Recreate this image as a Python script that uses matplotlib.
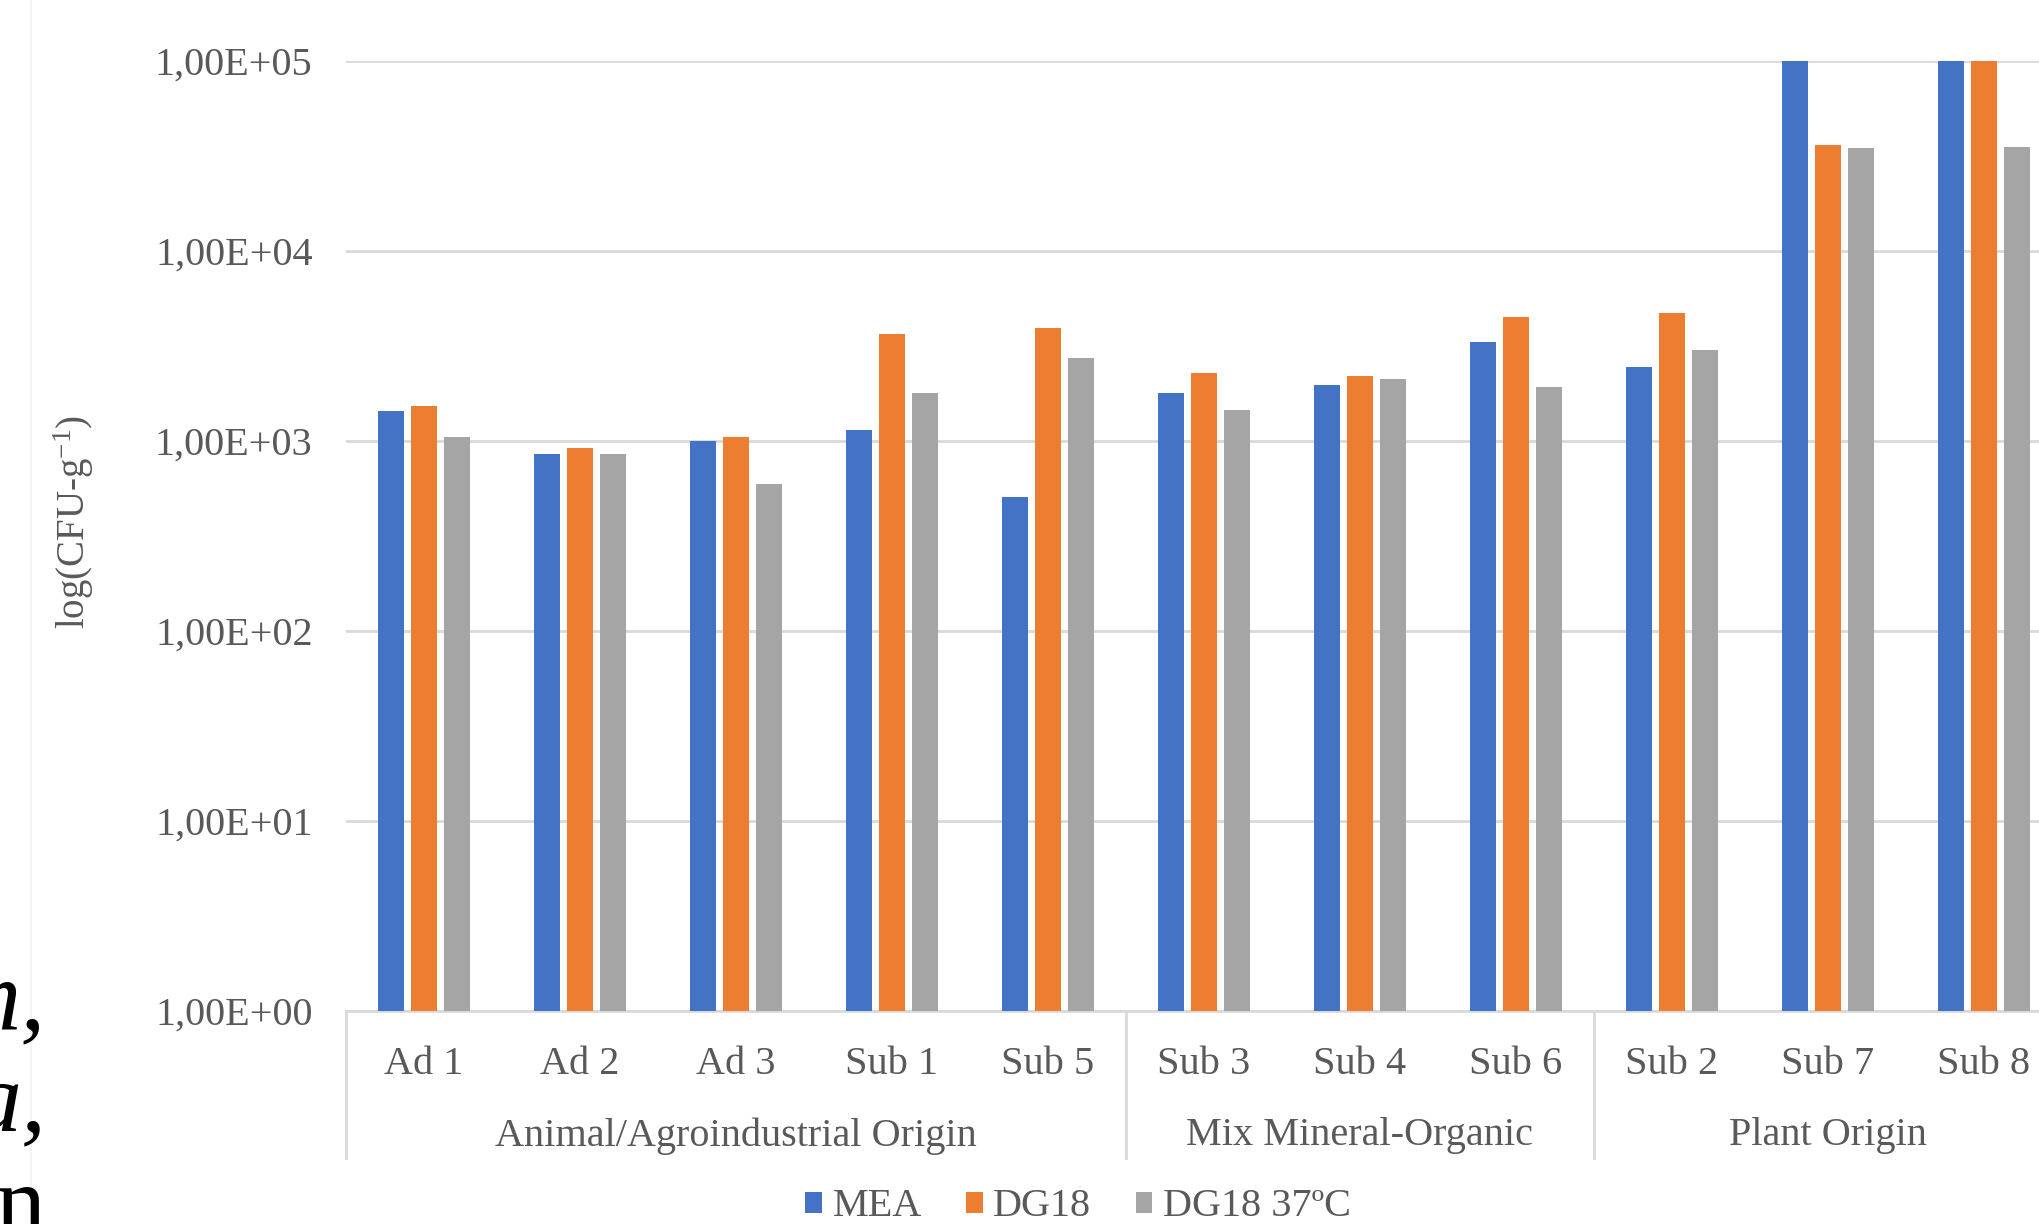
import matplotlib
matplotlib.use('Agg')
import matplotlib.pyplot as plt
import numpy as np
from matplotlib.transforms import blended_transform_factory
from matplotlib.patches import Patch
from matplotlib.lines import Line2D

# ---- data ----
categories = ['Ad 1', 'Ad 2', 'Ad 3', 'Sub 1', 'Sub 5', 'Sub 3', 'Sub 4', 'Sub 6', 'Sub 2', 'Sub 7', 'Sub 8']
groups = ['Animal/Agroindustrial Origin', 'Mix Mineral-Organic', 'Plant Origin']
group_sizes = [5, 3, 3]
series_names = ['MEA', 'DG18', 'DG18 37ºC']
mea = [1440, 850, 1000, 1140, 505, 1790, 1980, 3330, 2440, 100000, 100000]
dg18 = [1520, 920, 1050, 3650, 3950, 2270, 2190, 4500, 4720, 36000, 100000]
dg18_37 = [1045, 850, 594, 1790, 2745, 1460, 2120, 1920, 3020, 35000, 35200]
ytick_vals = [1, 10, 100, 1000, 10000, 100000]
ytick_labels = ['1,00E+00', '1,00E+01', '1,00E+02', '1,00E+03', '1,00E+04', '1,00E+05']
ylabel_text = 'log(CFU-g$^{-1}$)'

colors = ['#4472C4', '#ED7D31', '#A5A5A5']
txt_col = '#595959'
grid_col = '#D9D9D9'
serif = 'Liberation Serif'

plt.rcParams['font.family'] = serif
plt.rcParams['mathtext.fontset'] = 'custom'
plt.rcParams['mathtext.rm'] = serif
plt.rcParams['mathtext.it'] = serif + ':italic'

W, H = 2040, 1224
fig = plt.figure(figsize=(W / 100, H / 100), dpi=100)
fig.patch.set_facecolor('white')

ax_left, ax_right, ax_top, ax_bot = 346, 2062, 61, 1011
ax = fig.add_axes([ax_left / W, 1 - ax_bot / H, (ax_right - ax_left) / W, (ax_bot - ax_top) / H])

x = np.arange(len(categories))
step = 0.213
bw = 0.168
for i, (vals, c) in enumerate(zip([mea, dg18, dg18_37], colors)):
    ax.bar(x + (i - 1) * step, vals, width=bw, color=c, bottom=0, zorder=3)

ax.set_yscale('log')
ax.set_ylim(1, 100000)
ax.set_xlim(-0.5, len(categories) - 0.5)
ax.set_yticks(ytick_vals)
ax.set_yticklabels(ytick_labels)
ax.yaxis.set_minor_locator(matplotlib.ticker.NullLocator())
ax.tick_params(axis='y', length=0, pad=24, labelsize=29, labelcolor=txt_col)
ax.set_xticks([])
ax.grid(axis='y', color=grid_col, linewidth=2.0, zorder=0)
for s in ['top', 'right', 'left']:
    ax.spines[s].set_visible(False)
ax.spines['bottom'].set_color(grid_col)
ax.spines['bottom'].set_linewidth(2.0)

# category labels
trans = blended_transform_factory(ax.transData, fig.transFigure)
for xi, lab in zip(x, categories):
    ax.text(xi, 1 - 1064 / H, lab, transform=trans, ha='center', va='center',
            fontsize=29, color=txt_col, clip_on=False)

# group labels & separators
start = 0
sep_top, sep_bot = 1 - 1011 / H, 1 - 1158 / H
ax.plot([-0.5, -0.5], [sep_top, sep_bot], transform=trans, color=grid_col, lw=2.0, clip_on=False)
for g, n in zip(groups, group_sizes):
    centre = start + (n - 1) / 2
    ax.text(centre, 1 - 1136 / H, g, transform=trans, ha='center', va='center',
            fontsize=29, color=txt_col, clip_on=False)
    end = start + n - 0.5
    ax.plot([end, end], [sep_top, sep_bot], transform=trans, color=grid_col, lw=2.0, clip_on=False)
    start += n

# y label
fig.text(74 / W, 1 - 522 / H, ylabel_text, rotation=90, ha='center', va='center',
         fontsize=28, color=txt_col)

# legend
handles = [Patch(facecolor=c, edgecolor='none') for c in colors]
fig.legend(handles, series_names, loc='center', bbox_to_anchor=(1078 / W, 1 - 1207 / H),
           ncol=3, frameon=False, fontsize=29, labelcolor=txt_col,
           handlelength=0.42, handleheight=0.42, handletextpad=0.25, columnspacing=1.1,
           borderaxespad=0, borderpad=0)

# slide text fragments on the left edge (cut off, as in the source screenshot)
fig.text(46 / W, 1 - 1028 / H, 'm,', ha='right', va='baseline', fontsize=72,
         style='italic', color='black')
fig.text(46 / W, 1 - 1130 / H, 'a,', ha='right', va='baseline', fontsize=72,
         style='italic', color='black')
fig.text(46 / W, 1 - 1234 / H, 'n', ha='right', va='baseline', fontsize=72, color='black')
fig.add_artist(Line2D([31 / W, 31 / W], [0, 1], color='#F3F3F3', lw=1.5))

fig.savefig('out.png', dpi=100)
